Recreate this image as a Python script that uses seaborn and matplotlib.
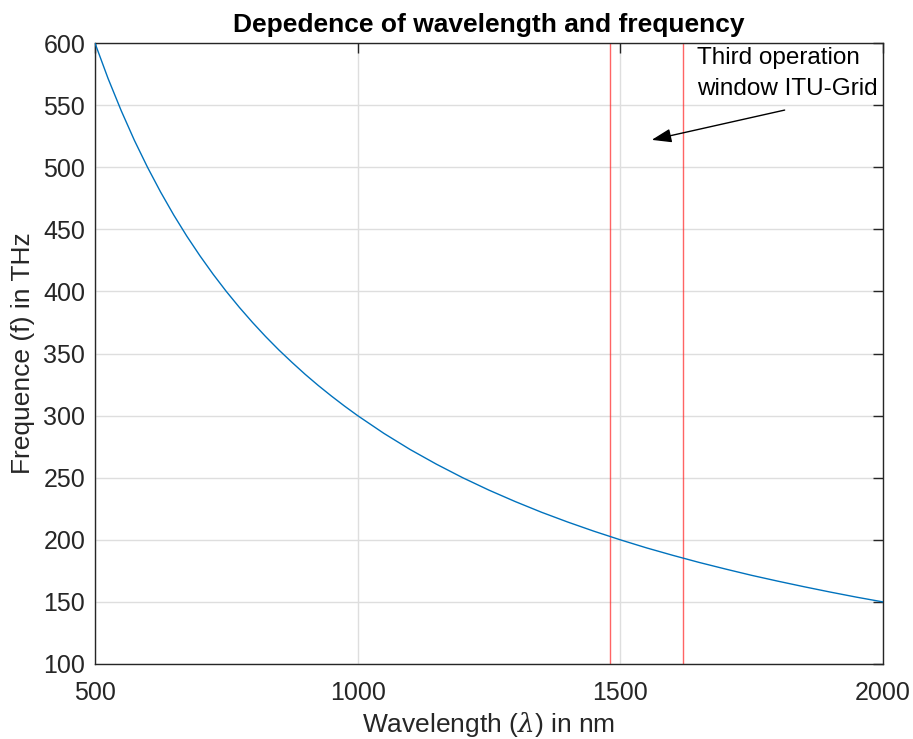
import numpy as np
import pandas as pd
import seaborn as sns
import matplotlib.pyplot as plt

# values (nm -> THz)
wavelength_nm = [500, 525, 550, 575, 600, 625, 650, 675, 700, 725, 750, 775,
                 800, 825, 850, 875, 900, 925, 950, 975, 1000,
                 1050, 1100, 1150, 1200, 1250, 1300, 1350, 1400, 1450, 1500,
                 1550, 1600, 1650, 1700, 1750, 1800, 1850, 1900, 1950, 2000]
frequency_thz = [600.0, 571.4, 545.5, 521.7, 500.0, 480.0, 461.5, 444.4, 428.6,
                 413.8, 400.0, 387.1, 375.0, 363.6, 352.9, 342.9, 333.3, 324.3,
                 315.8, 307.7, 300.0,
                 285.7, 272.7, 260.9, 250.0, 240.0, 230.8, 222.2,
                 214.3, 206.9, 200.0, 193.5, 187.5, 181.8, 176.5, 171.4, 166.7,
                 162.2, 157.9, 153.8, 150.0]
window_edges = [1480, 1620]
x_ticks = [500, 1000, 1500, 2000]
y_ticks = [100, 150, 200, 250, 300, 350, 400, 450, 500, 550, 600]

df = pd.DataFrame({"wavelength": wavelength_nm, "frequency": frequency_thz})

sns.set_theme(style="white")
plt.rcParams['font.family'] = ['Liberation Sans', 'DejaVu Sans']
plt.rcParams['mathtext.fontset'] = 'dejavuserif'

fig = plt.figure(figsize=(9.13, 7.39), dpi=100)
ax = fig.add_axes([0.104, 0.1015, 0.863, 0.8403])

ink = "#262626"
for x in x_ticks:
    ax.axvline(x, color="#dedede", lw=1, zorder=0)
for y in y_ticks:
    ax.axhline(y, color="#dedede", lw=1, zorder=0)

sns.lineplot(data=df, x="wavelength", y="frequency", ax=ax, color="#0072BD", lw=1, zorder=3)
for w in window_edges:
    ax.axvline(w, color="#FF3030", alpha=0.75, lw=1, zorder=2)

ax.set_xlim(500, 2000)
ax.set_ylim(100, 600)
ax.set_xticks(x_ticks)
ax.set_yticks(y_ticks)
ax.tick_params(direction="in", top=True, right=True, length=7, width=1,
               colors=ink, labelsize=18, pad=7)
ax.tick_params(axis="x", pad=12)
for s in ax.spines.values():
    s.set_color(ink)
    s.set_linewidth(1)

ax.set_xlabel(r"Wavelength ($\lambda$) in nm", fontsize=19, color=ink, labelpad=4)
ax.set_ylabel("Frequence (f) in THz", fontsize=19, color=ink, labelpad=6)
ax.set_title("Depedence of wavelength and frequency", fontsize=19, fontweight="bold",
             color="black", pad=8)

ax.text(1646, 597, "Third operation\nwindow ITU-Grid", fontsize=17.5, color="black",
        va="top", ha="left", linespacing=1.55,
        bbox=dict(facecolor="white", edgecolor="none", pad=1))
ax.annotate("", xy=(1560, 522), xytext=(1813, 546),
            arrowprops=dict(arrowstyle="-|>,head_length=1.0,head_width=0.35",
                            color="black", lw=1, shrinkA=0, shrinkB=0))

fig.savefig("out.png", dpi=100)
